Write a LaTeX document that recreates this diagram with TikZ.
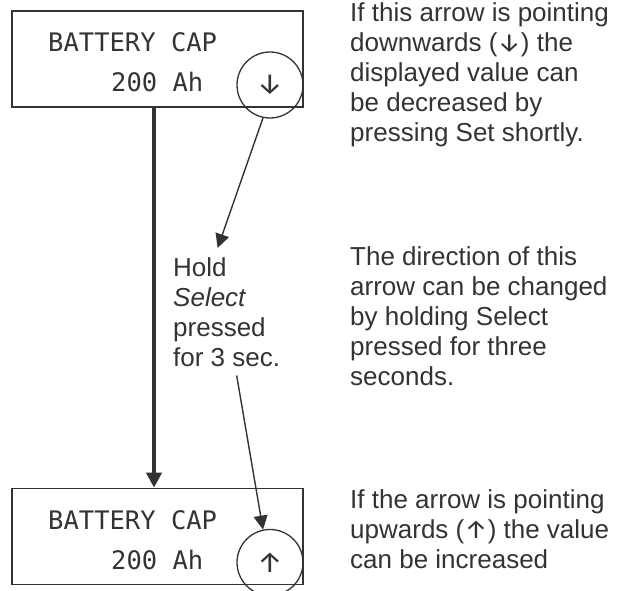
\documentclass[tikz,border=0pt]{standalone}
\usepackage{fontspec}
\setmainfont{Liberation Sans}
\newfontfamily\lcdfont{DejaVu Sans Mono}
\newfontfamily\arrowfont{Fira Sans}
\usetikzlibrary{arrows.meta}
\definecolor{ink}{HTML}{333333}
\newcommand{\dn}{{\arrowfont ↓}}
\newcommand{\up}{{\arrowfont ↑}}
\tikzset{
  display/.style={draw=ink, line width=1.6pt, minimum width=291pt, minimum height=96pt, inner sep=0pt},
  lcd/.style={font=\lcdfont\fontsize{25.5}{30}\selectfont, text=ink, inner sep=0pt, anchor=base west},
  ring/.style={draw=ink, line width=1.3pt, circle, minimum size=66pt, inner sep=0pt, text=ink,
    font=\fontsize{29}{29}\selectfont},
  note/.style={font=\fontsize{26}{30}\selectfont, text=ink, align=left, inner sep=0pt, anchor=base west},
  flow/.style={draw=ink, line width=4pt, -{Triangle[length=15pt,width=15pt]}},
  hint/.style={draw=ink, line width=1.4pt, -{Triangle[length=14pt,width=14pt]}}
}

\begin{document}
\begin{tikzpicture}[x=1pt, y=-1pt]

    \useasboundingbox (0,0) rectangle (634,591);
    \clip (0,0) rectangle (634,591);

    % the two displays, before and after
    \foreach \y/\nm/\sym in {59/top/\dn, 536.5/bot/\up}
    {
      \node[display] (disp-\nm) at (157.5,\y) {};
      \node[lcd] (title-\nm) at (48,\y-7) {BATTERY CAP};
      \node[lcd] (value-\nm) at (111,\y+33) {200 Ah};
      \node[ring] (ring-\nm) at (270,\y+26) {\sym};
    }

    % base anchor sits on the last line
    \node[note, inner ysep=9pt] (hold) at (173,366) {Hold\\\textit{Select}\\pressed\\for 3 sec.};

    \node[note] (note-down) at (350,142) {If this arrow is pointing\\downwards (\dn) the\\displayed value can\\be decreased by\\pressing Set shortly.};
    \node[note] (note-dir) at (350,385) {The direction of this\\arrow can be changed\\by holding Select\\pressed for three\\seconds.};
    \node[note] (note-up) at (350,568) {If the arrow is pointing\\upwards (\up) the value\\can be increased};

    \draw[flow] ([xshift=-3.5pt]disp-top.south) -- ([xshift=-3.5pt]disp-bot.north);
    \draw[hint] (ring-top.258) -- ([xshift=-9pt]hold.north);
    \draw[hint] ([xshift=10pt]hold.south) -- (ring-bot.102);
\end{tikzpicture}
\end{document}
